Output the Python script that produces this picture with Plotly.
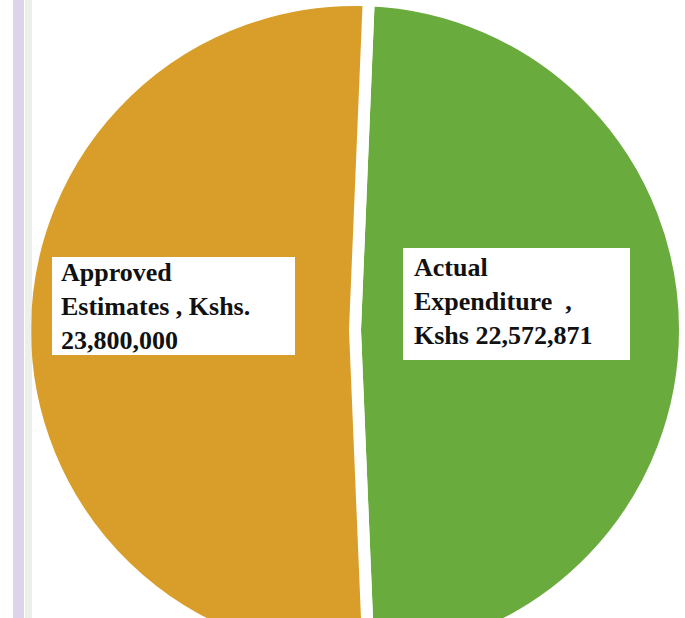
import plotly.graph_objects as go

# Budget figures (Kshs)
categories = ["Actual Expenditure", "Approved Estimates"]
amounts = [22572871, 23800000]
slice_colors = ["#69AB3C", "#D89E29"]

W, H = 685, 660


def px(x):
    return x / W


def py(y):
    return 1 - y / H


# centre the actual-expenditure wedge on the 3 o'clock direction
share_actual = amounts[0] / sum(amounts)
start_angle = 90 - 180 * share_actual

cx, cy, r = 355, 330, 330

fig = go.Figure(
    go.Pie(
        labels=categories,
        values=amounts,
        sort=False,
        direction="clockwise",
        rotation=start_angle,
        marker=dict(colors=slice_colors, line=dict(color="white", width=12)),
        textinfo="none",
        hoverinfo="label+value",
        domain=dict(x=[px(cx - r), px(cx + r)], y=[py(cy + r), py(cy - r)]),
        showlegend=False,
    )
)

# binding strip on the left edge
shapes = [
    dict(type="rect", xref="paper", yref="paper", x0=px(13), x1=px(24), y0=py(660), y1=py(0),
         fillcolor="#bba9d4", opacity=0.5, line_width=0, layer="above"),
    dict(type="rect", xref="paper", yref="paper", x0=px(25), x1=px(32), y0=py(660), y1=py(0),
         fillcolor="#d6dbd2", opacity=0.45, line_width=0, layer="above"),
]

# white label boxes
boxes = [(52, 257, 295, 355), (403, 248, 630, 360)]
for x0, y0, x1, y1 in boxes:
    shapes.append(dict(type="rect", xref="paper", yref="paper", x0=px(x0), x1=px(x1),
                       y0=py(y1), y1=py(y0), fillcolor="white", line_width=0, layer="above"))

label_lines = [
    ["Approved", "Estimates , Kshs.", f"{amounts[1]:,}"],
    ["Actual", "Expenditure&nbsp; ,", f"Kshs {amounts[0]:,}"],
]
text_left = [59, 412]
middle_baseline = [315, 311]

font = dict(family="Liberation Serif, Times New Roman, serif", size=26, color="#111111", weight="bold")
annotations = []
for lines, xl, b in zip(label_lines, text_left, middle_baseline):
    annotations.append(dict(
        text="<br>".join(lines), xref="paper", yref="paper",
        x=px(xl), y=py(b - 9), xanchor="left", yanchor="middle",
        showarrow=False, font=font, align="left",
    ))

fig.update_layout(
    width=W, height=H,
    margin=dict(l=0, r=0, t=0, b=0),
    paper_bgcolor="white", plot_bgcolor="white",
    shapes=shapes, annotations=annotations,
)

fig.write_html("out.html")
